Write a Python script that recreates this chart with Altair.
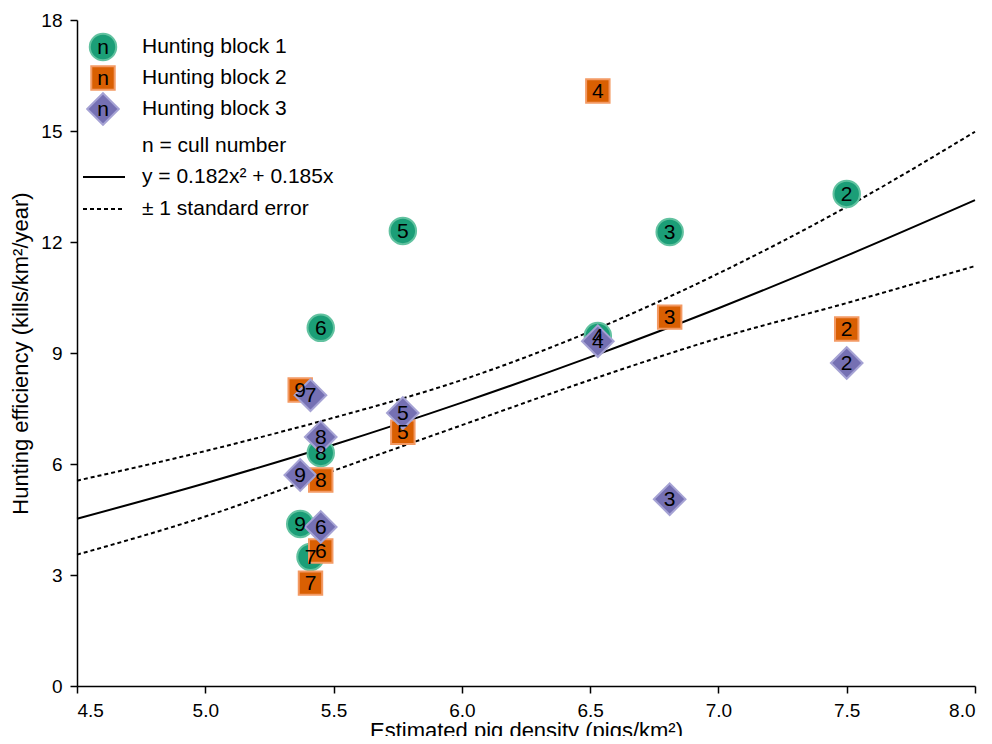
import altair as alt
import pandas as pd

# ---- data ----
culls = [2, 3, 4, 5, 6, 7, 8, 9]
density = [7.50, 6.81, 6.53, 5.77, 5.45, 5.41, 5.45, 5.37]
block1 = [13.30, 12.27, 9.46, 12.30, 9.68, 3.49, 6.30, 4.38]
block2 = [9.65, 9.97, 16.08, 6.86, 3.65, 2.78, 5.57, 8.00]
block3 = [8.73, 5.05, 9.32, 7.38, 4.30, 7.86, 6.73, 5.70]

curve_x = [4.5, 5.0, 5.5, 6.0, 6.5, 7.0, 7.5, 8.0]
fit_y = [4.52, 5.48, 6.52, 7.66, 8.89, 10.21, 11.63, 13.13]
upper_y = [5.55, 6.35, 7.25, 8.27, 9.58, 11.15, 12.95, 14.98]
lower_y = [3.55, 4.58, 5.82, 7.05, 8.27, 9.40, 10.35, 11.35]

x_ticks = [4.5, 5.0, 5.5, 6.0, 6.5, 7.0, 7.5, 8.0]
y_ticks = [0, 3, 6, 9, 12, 15, 18]

legend_labels = ["Hunting block 1", "Hunting block 2", "Hunting block 3",
                 "n = cull number", "y = 0.182x\u00b2 + 0.185x", "\u00b1 1 standard error"]

FONT = "Liberation Sans"
W, H = 898, 666

def block_df(vals):
    return pd.DataFrame({"x": density, "y": vals, "n": [str(c) for c in culls]})

d1, d2, d3 = block_df(block1), block_df(block2), block_df(block3)
curves = pd.DataFrame({"x": curve_x, "fit": fit_y, "upper": upper_y, "lower": lower_y})

xs = alt.Scale(domain=[4.5, 8.0], nice=False, zero=False)
ys = alt.Scale(domain=[0, 18], nice=False, zero=False)
x_enc = alt.X("x:Q", scale=xs, axis=alt.Axis(values=x_ticks, format=".1f",
              title="Estimated pig density (pigs/km\u00b2)", titlePadding=0))
y_enc_axis = alt.Axis(values=y_ticks, format="d",
                      title="Hunting efficiency (kills/km\u00b2/year)", titlePadding=8)

base_curve = alt.Chart(curves)
fit_line = base_curve.mark_line(color="black", strokeWidth=2, interpolate="monotone").encode(
    x=x_enc, y=alt.Y("fit:Q", scale=ys, axis=y_enc_axis))
up_line = base_curve.mark_line(color="black", strokeWidth=2, strokeDash=[4, 3],
                               interpolate="monotone").encode(
    x=x_enc, y=alt.Y("upper:Q", scale=ys))
lo_line = base_curve.mark_line(color="black", strokeWidth=2, strokeDash=[4, 3],
                               interpolate="monotone").encode(
    x=x_enc, y=alt.Y("lower:Q", scale=ys))

styles = [
    ("circle", 700, "#1b9e77", "#62c2a0"),
    ("square", 550, "#d95f02", "#f39a64"),
    ("diamond", 1000, "#7570b3", "#a5a2d4"),
]

pts = []
txts = []
for df, (shape, size, fill, stroke) in zip([d1, d2, d3], styles):
    pts.append(alt.Chart(df).mark_point(shape=shape, size=size, filled=True, fill=fill,
                                        stroke=stroke, strokeWidth=2, opacity=1).encode(
        x=x_enc, y=alt.Y("y:Q", scale=ys)))
    txts.append(alt.Chart(df).mark_text(font=FONT, fontSize=21, color="black",
                                        align="center", baseline="middle", dy=1).encode(
        x=x_enc, y=alt.Y("y:Q", scale=ys), text="n:N"))

# ---- custom legend ----
row_y = [27, 58, 89, 126, 157, 189]
leg_txt = pd.DataFrame({"label": legend_labels, "py": row_y})
legend_text = alt.Chart(leg_txt).mark_text(font=FONT, fontSize=21, color="black",
                                           align="left", baseline="middle").encode(
    x=alt.value(65), y=alt.Y("py:Q", scale=None), text="label:N")

leg_syms = []
for (shape, size, fill, stroke), py in zip(styles, row_y[:3]):
    sd = pd.DataFrame({"py": [py], "n": ["n"]})
    leg_syms.append(alt.Chart(sd).mark_point(shape=shape, size=size, filled=True, fill=fill,
                                             stroke=stroke, strokeWidth=2, opacity=1).encode(
        x=alt.value(26), y=alt.Y("py:Q", scale=None)))
    leg_syms.append(alt.Chart(sd).mark_text(font=FONT, fontSize=21, color="black",
                                            align="center", baseline="middle", dy=1).encode(
        x=alt.value(26), y=alt.Y("py:Q", scale=None), text="n:N"))

rule_df = pd.DataFrame({"py": [row_y[4], row_y[5]], "kind": ["fit", "se"]})
leg_solid = alt.Chart(rule_df[rule_df.kind == "fit"]).mark_rule(color="black", strokeWidth=2).encode(
    x=alt.value(6), x2=alt.value(48), y=alt.Y("py:Q", scale=None))
leg_dash = alt.Chart(rule_df[rule_df.kind == "se"]).mark_rule(color="black", strokeWidth=2,
                                                              strokeDash=[4, 3]).encode(
    x=alt.value(6), x2=alt.value(48), y=alt.Y("py:Q", scale=None))

chart = alt.layer(
    fit_line, up_line, lo_line, *pts, *txts, legend_text, *leg_syms, leg_solid, leg_dash
).properties(
    width=W, height=H,
    autosize=alt.AutoSizeParams(type="none"),
    padding={"left": 69, "top": 12, "right": 9, "bottom": 50},
).configure_view(stroke=None).configure_axis(
    grid=False, domainColor="black", domainWidth=1.5, tickColor="black", tickWidth=1.5,
    tickSize=7, labelColor="black", labelFont=FONT, labelFontSize=19, labelPadding=8,
    titleColor="black", titleFont=FONT, titleFontSize=22, titleFontWeight="normal",
)

chart.save("out.html", embed_options={"renderer": "svg", "actions": False})
